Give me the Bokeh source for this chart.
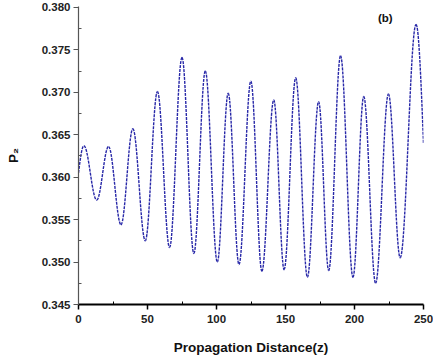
from bokeh.plotting import figure
from bokeh.models import ColumnDataSource, Range1d, FixedTicker, Label, CustomJSTickFormatter
from bokeh.embed import file_html
from bokeh.resources import INLINE

# Extrema of the oscillating P2 curve, plus start/end points
z_vals = [0, 3.9, 13.2, 21.8, 30.8, 39.4, 48.4, 57.2, 66.0, 75.0, 83.6, 91.9,
          100.6, 108.5, 116.3, 124.9, 132.9, 141.5, 149.0, 157.4, 165.9, 174.0,
          181.3, 189.9, 198.9, 206.7, 215.3, 224.6, 233.1, 244.6, 250.0]
p2_vals = [0.3605, 0.3637, 0.3573, 0.3636, 0.3544, 0.3657, 0.3525, 0.3701,
           0.3517, 0.3741, 0.3510, 0.3725, 0.3500, 0.3699, 0.3497, 0.3713,
           0.3489, 0.3691, 0.3491, 0.3717, 0.3482, 0.3689, 0.3490, 0.3743,
           0.3482, 0.3695, 0.3475, 0.3698, 0.3505, 0.3780, 0.3640]

x_ticks = [0, 50, 100, 150, 200, 250]
y_ticks = [0.345, 0.350, 0.355, 0.360, 0.365, 0.370, 0.375, 0.380]

# Build smooth cubic Bezier segments between consecutive points
x0, y0, x1, y1, cx0, cy0, cx1, cy1 = [], [], [], [], [], [], [], []
n = len(z_vals)
for i in range(n - 1):
    a, b = z_vals[i], z_vals[i + 1]
    ya, yb = p2_vals[i], p2_vals[i + 1]
    dx, dy = b - a, yb - ya
    x0.append(a); y0.append(ya); x1.append(b); y1.append(yb)
    if i == 0:
        cx0.append(a + 0.334 * dx); cy0.append(ya + 0.525 * dy)
        cx1.append(a + 0.64 * dx); cy1.append(yb)
    elif i == n - 2:
        cx0.append(b - 0.64 * dx); cy0.append(ya)
        cx1.append(b - 0.334 * dx); cy1.append(yb - 0.525 * dy)
    else:
        cx0.append(a + 0.364 * dx); cy0.append(ya)
        cx1.append(b - 0.364 * dx); cy1.append(yb)

src = ColumnDataSource(dict(x0=x0, y0=y0, x1=x1, y1=y1,
                            cx0=cx0, cy0=cy0, cx1=cx1, cy1=cy1))

p = figure(width=433, height=360, output_backend="svg", toolbar_location=None,
           x_range=Range1d(0, 250), y_range=Range1d(0.345, 0.3801),
           min_border_left=78, min_border_right=10, min_border_top=6,
           min_border_bottom=56)

p.bezier(x0="x0", y0="y0", x1="x1", y1="y1", cx0="cx0", cy0="cy0",
         cx1="cx1", cy1="cy1", source=src, line_color="#2828a8",
         line_width=1.4, line_dash="3 1")

p.outline_line_color = None
p.xgrid.visible = False
p.ygrid.visible = False

font = "Liberation Sans"
p.xaxis.ticker = FixedTicker(ticks=x_ticks, minor_ticks=[25, 75, 125, 175, 225])
p.yaxis.ticker = FixedTicker(ticks=y_ticks,
                             minor_ticks=[0.3475, 0.3525, 0.3575, 0.3625,
                                          0.3675, 0.3725, 0.3775])
p.yaxis.formatter = CustomJSTickFormatter(code="return tick.toFixed(3);")

for ax in (p.xaxis, p.yaxis):
    ax.major_label_text_font = font
    ax.major_label_text_font_style = "bold"
    ax.major_label_text_font_size = "11.5px"
    ax.major_label_text_color = "#222222"
    ax.axis_label_text_font = font
    ax.axis_label_text_font_style = "bold"
    ax.axis_label_text_font_size = "13.5px"
    ax.axis_label_text_color = "#111111"
    ax.major_tick_out = 5
    ax.major_tick_in = 0
    ax.minor_tick_out = 0
    ax.minor_tick_in = 3
    ax.major_label_standoff = 3

p.xaxis.axis_line_width = 2
p.xaxis.axis_line_color = "black"
p.xaxis.major_tick_line_width = 1.5
p.xaxis.major_label_standoff = 5
p.yaxis.axis_line_width = 1.2
p.yaxis.axis_line_color = "#555555"
p.yaxis.major_tick_line_color = "#555555"
p.yaxis.minor_tick_line_color = "#555555"

p.xaxis.axis_label = "Propagation Distance(z)"
p.xaxis.axis_label_standoff = 14
p.yaxis.axis_label = "P\u2082"
p.yaxis.axis_label_standoff = 18

p.add_layout(Label(x=217, y=0.3787, text="(b)", text_font=font,
                   text_font_style="bold", text_font_size="11.5px",
                   text_color="#111111", text_baseline="middle"))

open("out.html", "w").write(file_html(p, INLINE))
